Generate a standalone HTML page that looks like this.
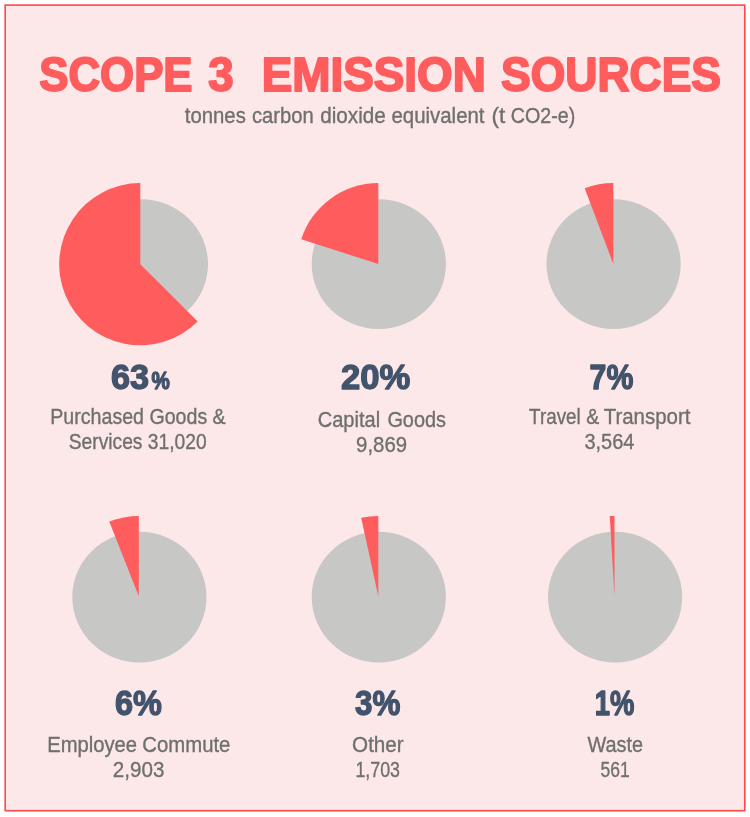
<!DOCTYPE html>
<html lang="en"><head><meta charset="utf-8"><title>Scope 3 Emission Sources</title>
<style>
html,body{margin:0;padding:0;background:#fff;}
body{width:750px;height:817px;position:relative;overflow:hidden;font-family:"Liberation Sans",sans-serif;}
svg{position:absolute;left:0;top:0;display:block;}
text{font-family:"Liberation Sans",sans-serif;}
.title{font-weight:700;fill:#ff5c5e;stroke:#ff5c5e;stroke-width:2px;stroke-linejoin:round;}
.lbl{fill:#6f706c;stroke:#6f706c;stroke-width:0.35px;}
.num{font-weight:700;fill:#42536c;stroke:#42536c;stroke-width:1.3px;stroke-linejoin:round;}
</style></head><body>
<svg width="750" height="817" viewBox="0 0 750 817">
<rect x="5.2" y="5.1" width="739.6" height="805.6" fill="#fce8e8" stroke="#ff474a" stroke-width="1.6"/>
<ellipse cx="140.9" cy="264.1" rx="67.1" ry="64.9" fill="#c7c7c5"/>
<path d="M140.30,264.20 L197.65,321.55 A81.1,81.1 0 1 1 140.30,183.10 Z" fill="#ff5c5e"/>
<ellipse cx="378.8" cy="264.1" rx="67.1" ry="64.9" fill="#c7c7c5"/>
<path d="M378.30,264.00 L301.27,239.27 A80.9,80.9 0 0 1 378.30,183.10 Z" fill="#ff5c5e"/>
<ellipse cx="613.6" cy="264.1" rx="67.1" ry="64.9" fill="#c7c7c5"/>
<path d="M613.30,264.00 L584.70,188.32 A80.9,80.9 0 0 1 613.30,183.10 Z" fill="#ff5c5e"/>
<ellipse cx="139.4" cy="597.1" rx="67.1" ry="65.3" fill="#c7c7c5"/>
<path d="M138.80,596.20 L109.24,521.54 A80.3,80.3 0 0 1 138.80,515.90 Z" fill="#ff5c5e"/>
<ellipse cx="378.8" cy="597.1" rx="67.1" ry="65.3" fill="#c7c7c5"/>
<path d="M378.30,596.20 L361.19,517.74 A80.3,80.3 0 0 1 378.30,515.90 Z" fill="#ff5c5e"/>
<ellipse cx="615.1" cy="597.1" rx="67.1" ry="65.3" fill="#c7c7c5"/>
<path d="M614.50,596.20 L609.74,516.04 A80.3,80.3 0 0 1 614.50,515.90 Z" fill="#ff5c5e"/>
<text class="title" x="39.2" y="90.8" font-size="48.8" textLength="153.4" lengthAdjust="spacingAndGlyphs">SCOPE</text>
<text class="title" x="208.2" y="90.8" font-size="48.8" textLength="25.4" lengthAdjust="spacingAndGlyphs">3</text>
<text class="title" x="261.7" y="90.8" font-size="48.8" textLength="224.2" lengthAdjust="spacingAndGlyphs">EMISSION</text>
<text class="title" x="501.0" y="90.8" font-size="48.8" textLength="220.0" lengthAdjust="spacingAndGlyphs">SOURCES</text>
<text class="lbl" x="184.8" y="123.4" font-size="21.7" textLength="61.0" lengthAdjust="spacingAndGlyphs">tonnes</text>
<text class="lbl" x="252.0" y="123.4" font-size="21.7" textLength="61.8" lengthAdjust="spacingAndGlyphs">carbon</text>
<text class="lbl" x="320.2" y="123.4" font-size="21.7" textLength="65.6" lengthAdjust="spacingAndGlyphs">dioxide</text>
<text class="lbl" x="391.5" y="123.4" font-size="21.7" textLength="93.0" lengthAdjust="spacingAndGlyphs">equivalent</text>
<text class="lbl" x="491.5" y="123.4" font-size="21.7" textLength="13.8" lengthAdjust="spacingAndGlyphs">(t</text>
<text class="lbl" x="510.7" y="123.4" font-size="21.7" textLength="64.5" lengthAdjust="spacingAndGlyphs">CO2-e)</text>
<text class="num" x="111.0" y="389.4" font-size="34.3" textLength="38.2" lengthAdjust="spacingAndGlyphs">63</text>
<text class="num" x="341.0" y="389.4" font-size="34.3" textLength="69.3" lengthAdjust="spacingAndGlyphs">20%</text>
<text class="num" x="589.6" y="389.4" font-size="34.3" textLength="43.7" lengthAdjust="spacingAndGlyphs">7%</text>
<text class="num" x="115.0" y="714.8" font-size="34.3" textLength="46.9" lengthAdjust="spacingAndGlyphs">6%</text>
<text class="num" x="355.1" y="714.8" font-size="34.3" textLength="45.3" lengthAdjust="spacingAndGlyphs">3%</text>
<text class="num" x="594.8" y="714.8" font-size="34.3" textLength="39.6" lengthAdjust="spacingAndGlyphs">1%</text>
<text class="num" x="151.5" y="389.4" font-size="23.4" textLength="18.3" lengthAdjust="spacingAndGlyphs">%</text>
<text class="lbl" x="50.3" y="423.6" font-size="22.1" textLength="175.4" lengthAdjust="spacingAndGlyphs">Purchased Goods &amp;</text>
<text class="lbl" x="68.7" y="448.7" font-size="22.1" textLength="138.0" lengthAdjust="spacingAndGlyphs">Services 31,020</text>
<text class="lbl" x="317.7" y="426.7" font-size="22.1" textLength="62.4" lengthAdjust="spacingAndGlyphs">Capital</text>
<text class="lbl" x="387.4" y="426.7" font-size="22.1" textLength="58.6" lengthAdjust="spacingAndGlyphs">Goods</text>
<text class="lbl" x="356.1" y="452.1" font-size="22.1" textLength="51.0" lengthAdjust="spacingAndGlyphs">9,869</text>
<text class="lbl" x="529.1" y="423.6" font-size="22.1" textLength="51.7" lengthAdjust="spacingAndGlyphs">Travel</text>
<text class="lbl" x="586.2" y="423.6" font-size="22.1" textLength="13.0" lengthAdjust="spacingAndGlyphs">&amp;</text>
<text class="lbl" x="603.7" y="423.6" font-size="22.1" textLength="86.8" lengthAdjust="spacingAndGlyphs">Transport</text>
<text class="lbl" x="584.4" y="448.7" font-size="22.1" textLength="50.0" lengthAdjust="spacingAndGlyphs">3,564</text>
<text class="lbl" x="47.2" y="751.5" font-size="22.1" textLength="89.9" lengthAdjust="spacingAndGlyphs">Employee</text>
<text class="lbl" x="142.3" y="751.5" font-size="22.1" textLength="88.1" lengthAdjust="spacingAndGlyphs">Commute</text>
<text class="lbl" x="112.8" y="777.2" font-size="22.1" textLength="51.6" lengthAdjust="spacingAndGlyphs">2,903</text>
<text class="lbl" x="352.1" y="751.5" font-size="22.1" textLength="51.6" lengthAdjust="spacingAndGlyphs">Other</text>
<text class="lbl" x="355.4" y="777.2" font-size="22.1" textLength="44.6" lengthAdjust="spacingAndGlyphs">1,703</text>
<text class="lbl" x="587.4" y="751.5" font-size="22.1" textLength="55.6" lengthAdjust="spacingAndGlyphs">Waste</text>
<text class="lbl" x="600.6" y="777.2" font-size="22.1" textLength="29.2" lengthAdjust="spacingAndGlyphs">561</text>
</svg>
</body></html>
